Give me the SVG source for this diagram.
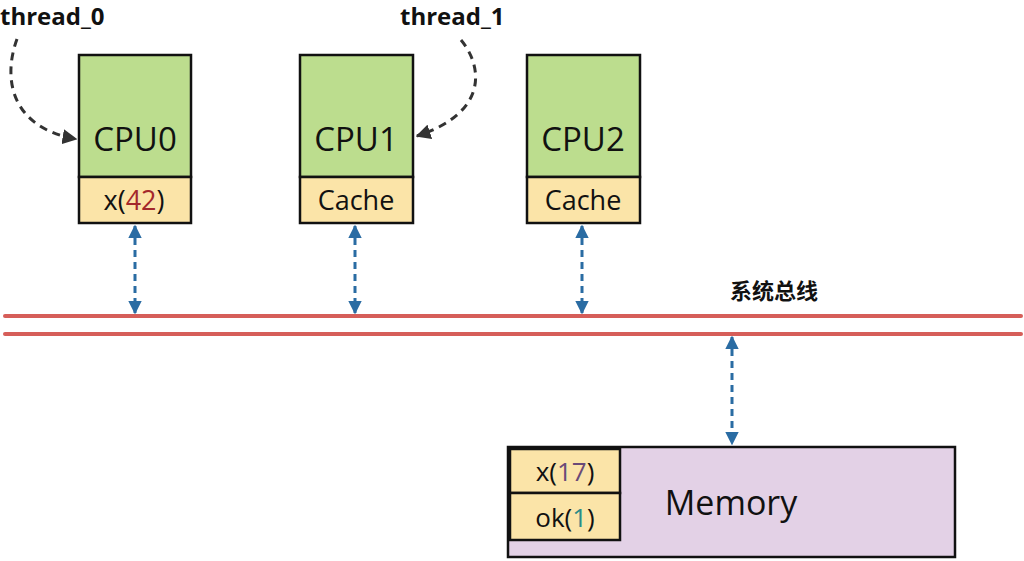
<svg xmlns="http://www.w3.org/2000/svg" width="1024" height="561" viewBox="0 0 1024 561">
<defs>
<style>
.box{stroke:#111;stroke-width:2.5}
.cpu{fill:#bcdd8e}
.cache{fill:#fbe4a8}
.mem{fill:#e3d1e6}
.t{font-family:"Open Sans","Liberation Sans",sans-serif;fill:#111;text-anchor:middle}
.lbl{font-family:"Open Sans","Liberation Sans",sans-serif;font-weight:bold;fill:#111}
.bus{stroke:#d65e59;stroke-width:4;stroke-linecap:round}
.link{stroke:#2a6ca3;stroke-width:3;stroke-dasharray:7,5;fill:none;marker-start:url(#ab);marker-end:url(#ab)}
.thr{stroke:#333;stroke-width:3;stroke-dasharray:8,6;fill:none;marker-end:url(#ak)}
</style>
<marker id="ab" viewBox="0 0 10 10" refX="9" refY="5" markerWidth="4.5" markerHeight="5" orient="auto-start-reverse" markerUnits="strokeWidth">
<path d="M0,0 L10,5 L0,10 z" fill="#2a6ca3"/>
</marker>
<marker id="ak" viewBox="0 0 10 10" refX="9" refY="5" markerWidth="5" markerHeight="5" orient="auto" markerUnits="strokeWidth">
<path d="M0,0 L10,5 L0,10 z" fill="#333"/>
</marker>
</defs>
<rect width="1024" height="561" fill="#fff"/>

<g id="bus">
<line class="bus" x1="5" y1="316" x2="1021" y2="316"/>
<line class="bus" x1="5" y1="334" x2="1021" y2="334"/>
<text x="774" y="299" font-size="22" text-anchor="middle" style="font-family:'Noto Sans CJK SC','Liberation Sans',sans-serif;font-weight:bold;fill:#111">系统总线</text>
</g>

<g id="cpu0">
<rect class="box cpu" x="79" y="55" width="112" height="122"/>
<rect class="box cache" x="79" y="177" width="112" height="46"/>
<text class="t" x="135" y="151" font-size="33">CPU0</text>
<text class="t" x="134" y="210" font-size="27">x(<tspan fill="#a3282b">42</tspan>)</text>
</g>
<g id="cpu1">
<rect class="box cpu" x="300" y="55" width="113" height="122"/>
<rect class="box cache" x="300" y="177" width="113" height="46"/>
<text class="t" x="356" y="151" font-size="33">CPU1</text>
<text class="t" x="356" y="210" font-size="27">Cache</text>
</g>
<g id="cpu2">
<rect class="box cpu" x="527" y="55" width="113" height="122"/>
<rect class="box cache" x="527" y="177" width="113" height="46"/>
<text class="t" x="583" y="151" font-size="33">CPU2</text>
<text class="t" x="583" y="210" font-size="27">Cache</text>
</g>

<g id="memory">
<rect class="box mem" x="508" y="447" width="447" height="110"/>
<rect class="box cache" x="510" y="449" width="110" height="44"/>
<rect class="box cache" x="510" y="493" width="110" height="47"/>
<text class="t" x="565" y="481" font-size="26">x(<tspan fill="#6a4a78">17</tspan>)</text>
<text class="t" x="565" y="527" font-size="26">ok(<tspan fill="#2a8a88">1</tspan>)</text>
<text class="t" x="731" y="515" font-size="34">Memory</text>
</g>

<g id="threads">
<text class="lbl" x="0" y="25" font-size="24">thread_0</text>
<text class="lbl" x="400" y="25" font-size="24">thread_1</text>
</g>

<g id="connectors">
<path class="thr" d="M17,39 C2,80 12,128 76,139"/>
<path class="thr" d="M461,40 C482,65 490,112 417,136"/>
<line class="link" x1="135" y1="226" x2="135" y2="313"/>
<line class="link" x1="355" y1="226" x2="355" y2="313"/>
<line class="link" x1="582" y1="226" x2="582" y2="313"/>
<line class="link" x1="732" y1="337" x2="732" y2="444"/>
</g>
</svg>
